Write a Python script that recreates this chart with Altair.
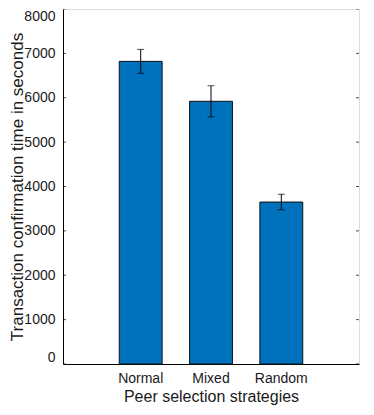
import altair as alt
import pandas as pd

strategies = ["Normal", "Mixed", "Random"]
mean_time = [6820, 5920, 3650]
err_time = [270, 350, 175]
y_ticks = [0, 1000, 2000, 3000, 4000, 5000, 6000, 7000, 8000]

df = pd.DataFrame({
    "strategy": strategies,
    "mean": mean_time,
    "lo": [m - e for m, e in zip(mean_time, err_time)],
    "hi": [m + e for m, e in zip(mean_time, err_time)],
})
ticks_df = pd.DataFrame({"t": y_ticks})

FONT = "Liberation Sans"
BLUE = "#0072BD"

xscale = alt.Scale(paddingInner=0.39, paddingOuter=0.8)
yscale = alt.Scale(domain=[0, 8000], nice=False)

x_enc = alt.X("strategy:N", sort=strategies, scale=xscale,
              axis=alt.Axis(title="Peer selection strategies", labelAngle=0,
                            ticks=False, labelPadding=7, titlePadding=3,
                            labelFontSize=14, titleFontSize=16,
                            domainColor="black", labelColor="#1a1a1a",
                            titleColor="#1a1a1a", titleFontWeight="normal"))
y_enc = alt.Y("mean:Q", scale=yscale,
              axis=alt.Axis(title="Transaction confirmation time in seconds",
                            values=y_ticks, format="d", ticks=False, grid=False,
                            labelFlush=True, labelPadding=8, titlePadding=-3,
                            labelFontSize=14, titleFontSize=17,
                            domainColor="black", labelColor="#1a1a1a",
                            titleColor="#1a1a1a", titleFontWeight="normal"))

base = alt.Chart(df)
bars = base.mark_bar(color=BLUE, stroke="#111111", strokeWidth=1).encode(x=x_enc, y=y_enc)
rules = base.mark_rule(color="black", strokeWidth=1).encode(
    x=alt.X("strategy:N", sort=strategies, scale=xscale),
    y=alt.Y("lo:Q", scale=yscale), y2="hi:Q")
cap_lo = base.mark_tick(color="black", thickness=1, size=7, orient="horizontal").encode(
    x=alt.X("strategy:N", sort=strategies, scale=xscale),
    y=alt.Y("lo:Q", scale=yscale))
cap_hi = base.mark_tick(color="black", thickness=1, size=7, orient="horizontal").encode(
    x=alt.X("strategy:N", sort=strategies, scale=xscale),
    y=alt.Y("hi:Q", scale=yscale))
tick_l = alt.Chart(ticks_df).mark_tick(color="black", thickness=1, size=6,
                                       orient="horizontal", clip=True).encode(
    x=alt.value(0), y=alt.Y("t:Q", scale=yscale))
tick_r = alt.Chart(ticks_df).mark_tick(color="black", thickness=1, size=6,
                                       orient="horizontal", clip=True).encode(
    x=alt.value(296), y=alt.Y("t:Q", scale=yscale))

chart = alt.layer(bars, rules, cap_lo, cap_hi, tick_l, tick_r).properties(
    width=296, height=355,
    autosize=alt.AutoSizeParams(type="none"),
    padding={"left": 55, "top": 1, "right": 6, "bottom": 42},
).configure_view(stroke="black", strokeWidth=1.2).configure(
    font=FONT
).configure_axis(grid=False)

chart.save("out.html", embed_options={"renderer": "svg", "actions": False})
